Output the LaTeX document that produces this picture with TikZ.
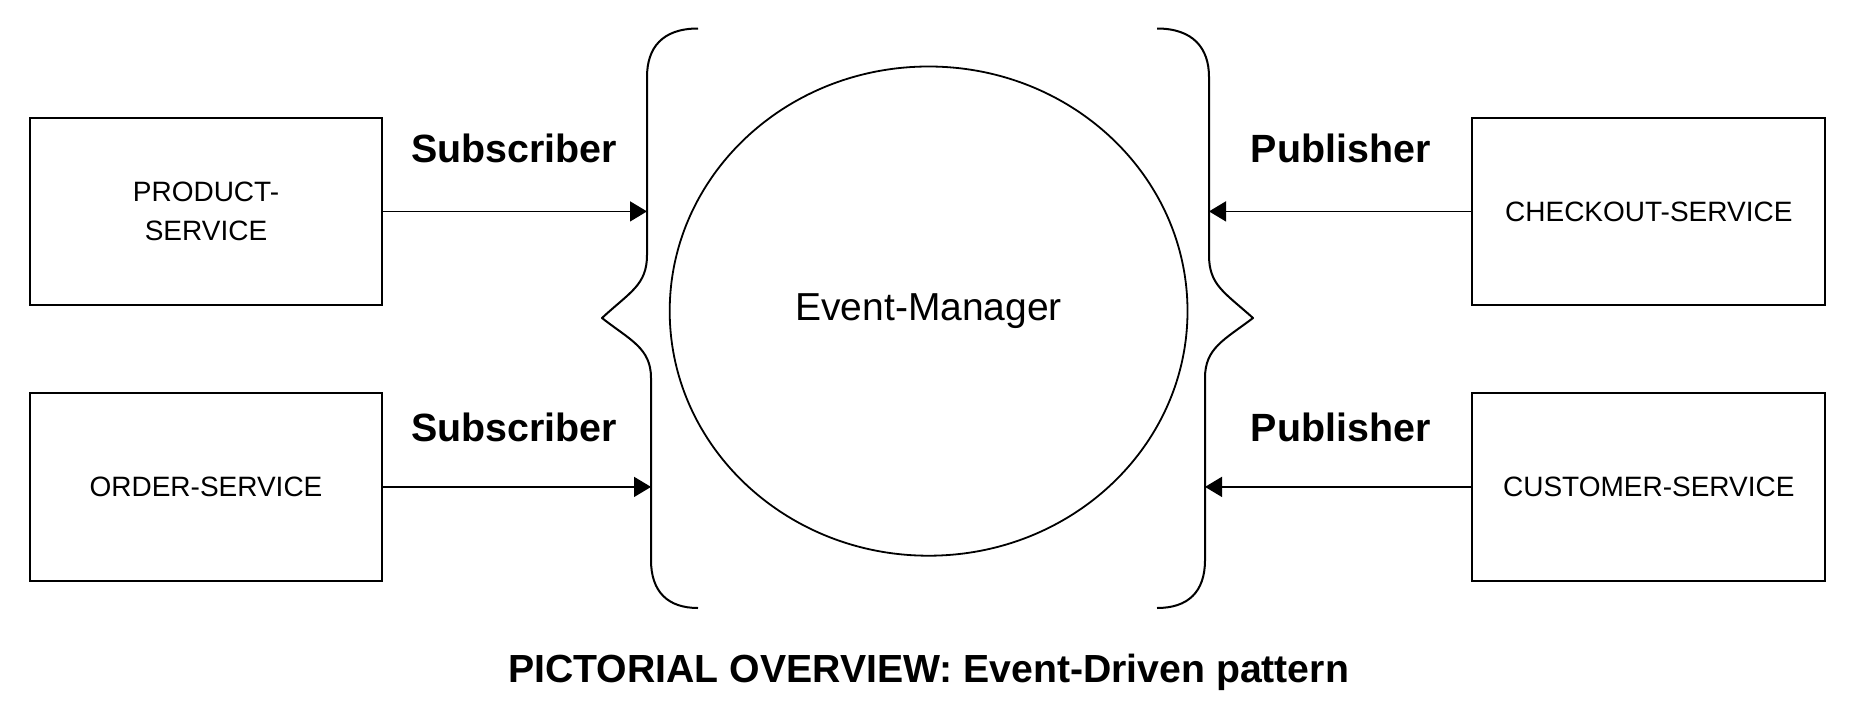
\documentclass[tikz,border=0pt]{standalone}
\usepackage{fontspec}
\setmainfont{Liberation Sans}
\usetikzlibrary{arrows.meta,shapes.geometric}
\begin{document}
\begin{tikzpicture}[x=0.5pt,y=-0.5pt,
  svcbox/.style={draw=black,line width=1pt,minimum width=176.4pt,minimum height=93.8pt,inner sep=0pt,align=center,font=\fontsize{14}{19.6}\selectfont},
  rolelabel/.style={font=\fontsize{19.7}{22}\selectfont\bfseries,inner sep=0pt},
  conn/.style={line width=0.8pt,-{Triangle[length=8.5pt,width=10pt]}},
  bracestyle/.style={line width=1pt,line join=round}]
\useasboundingbox (0,0) rectangle (1862,718);
% service boxes
\node[svcbox] (prod) at (206,211.4) {PRODUCT-\\SERVICE};
\node[svcbox] (order) at (206,486.9) {ORDER-SERVICE};
\node[svcbox] (checkout) at (1648.8,211.4) {CHECKOUT-SERVICE};
\node[svcbox] (customer) at (1648.8,486.9) {CUSTOMER-SERVICE};
% event manager
\node[draw=black,line width=0.9pt,ellipse,minimum width=258.9pt,minimum height=244.6pt,inner sep=0pt,font=\fontsize{19.5}{22}\selectfont] (em) at (928.6,311.1) {Event-Manager};
% braces
\draw[bracestyle] (698,28.5) .. controls (662,28.5) and (647,48) .. (647,77)
  -- (647,255) .. controls (647,285) and (630,292) .. (602,318)
  .. controls (630,340) and (651,348) .. (651,378)
  -- (651,560) .. controls (651,592) and (668,608) .. (698,608);
\draw[bracestyle] (1157,28.5) .. controls (1193,28.5) and (1209,48) .. (1209,77)
  -- (1209,255) .. controls (1209,285) and (1224,292) .. (1253,318)
  .. controls (1224,340) and (1205,348) .. (1205,378)
  -- (1205,560) .. controls (1205,592) and (1188,608) .. (1157,608);
% arrow ends
\coordinate (lb1) at (647,211.4);
\coordinate (lb2) at (651,486.9);
\coordinate (rb1) at (1209,211.4);
\coordinate (rb2) at (1205,486.9);
\draw[conn] (prod.east) -- (lb1);
\draw[conn] (order.east) -- (lb2);
\draw[conn] (checkout.west) -- (rb1);
\draw[conn] (customer.west) -- (rb2);
% labels
\node[rolelabel] (sub1) at (514.2,148.4) {Subscriber};
\node[rolelabel] (sub2) at (514.2,427.5) {Subscriber};
\node[rolelabel] (pub1) at (1340.7,148.4) {Publisher};
\node[rolelabel] (pub2) at (1340.7,427.5) {Publisher};
% title
\node[font=\fontsize{19.6}{22}\selectfont\bfseries,inner sep=0pt] (title) at (928.6,672) {PICTORIAL OVERVIEW: Event-Driven pattern};
\end{tikzpicture}
\end{document}
